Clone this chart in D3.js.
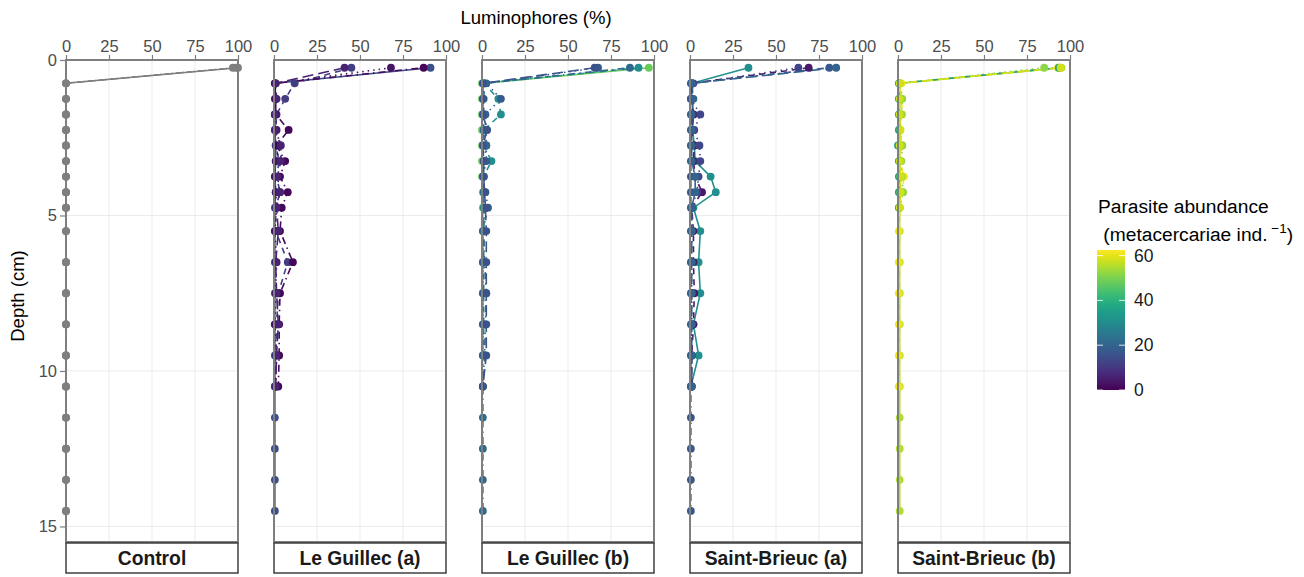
<!DOCTYPE html>
<html><head><meta charset="utf-8">
<script src="https://cdn.jsdelivr.net/npm/d3@7"></script>
<style>body{margin:0;background:#fff}svg{display:block}text{font-family:"Liberation Sans",Arial,sans-serif}</style>
</head><body><svg id="c" width="1304" height="577"></svg>
<script>
// ---------- data ----------
const depths = [0.25,0.75,1.25,1.75,2.25,2.75,3.25,3.75,4.25,4.75,5.5,6.5,7.5,8.5,9.5,10.5,11.5,12.5,13.5,14.5];
const panels = ["Control","Le Guillec (a)","Le Guillec (b)","Saint-Brieuc (a)","Saint-Brieuc (b)"];
const xTicks = [0,25,50,75,100];
const yTicks = [0,5,10,15];
const legendTicks = [0,20,40,60];
const lineTypes = ["solid","dashed","dotted","dotdash","longdash"];

const controlAbundance = [null,null,null];
const controlValues = [
  [100,0,0,0,0,0,0,0,0,0,0,0,0,0,0,0,0,0,0,0],
  [99,0,0,0,0,0,0,0,0,0,0,0,0,0,0,0,0,0,0,0],
  [97,0,0,0,0,0,0,0,0,0,0,0,0,0,0,0,0,0,0,0]
];
const guillecAAbundance = [15,11,3,1,6];
const guillecAValues = [
  [91,0.5,1,0.5,0.5,1,1,0.5,1,0.5,0.5,0.5,0.5,0.5,0.5,0.5,0.5,0.5,0.5,0.5],
  [45,12,6.5,1.5,1,1,3,1.5,3.5,1,1,8,2.5,1.5,1,0.5],
  [68,1,0.5,0.5,1.5,3.5,1,0.5,1,1.5,0.5,1.5,1,0.5,1.5,1],
  [87,0.5,1,1,8.5,1.5,6.5,3.5,8,4.5,3.5,11,3.5,3,3,2.5],
  [41,1,1.5,0.5,0.5,4,4,2,3.5,1.5,2.5,1,1.5,2.5,1.5,1]
];
const guillecBAbundance = [48,31,18,21,16];
const guillecBValues = [
  [97,0,0,0,0,0,0,0,0.5,0.5,0.5,0.5,0.5,0.5,0.5],
  [91,1,9.5,11,1,1,5.5,1,1,1,1,1,1,1,1],
  [67.5,2.5,11,2,2.5,2.5,2.5,0.5,2,3.5,0.5,0.5,0.5,0.5,0.5,0.5],
  [86,1.5,1,1,1,2.5,1,1,1,1.5,1,1.5,2.5,2,1.5,0.5,0.5,0.5,0.5,0.5],
  [65.5,0.5,0.5,0.5,3,0.5,1,1,1.5,2,2.5,2.5,2.5,2.5,2.5,0.5]
];
const brieucAAbundance = [31,4,13,17,20];
const brieucAValues = [
  [34,1,1,2,1.5,2.5,3,12,15,2,6,5,6,2,5,0.5],
  [69,1,1,2,1,2.5,2,3,7,1,2,2,2.5,2,1,1],
  [63,2,0.5,6,2.5,5.5,6,5,4,1,1,1,1,1,1,1],
  [81,0.5,0.5,0.5,0.5,0.5,0.5,0.5,0.5,0.5,0.5,0.5,0.5,0.5,0.5,0.5,0.5,0.5,0.5,0.5],
  [85,1,2,1,1,1,1,3,3,1,1,1,1,1,1,1]
];
const brieucBAbundance = [55,61,52,35,58];
const brieucBValues = [
  [95,1,1,1,1,1,1,1,1,1,1,1,1,1,1,1,1,1,1,1],
  [93,2,2,2.5,1,2.5,1,3.5,2.5,1,0.5,0.5,0.5,0.5,0.5,0.5],
  [85,1,2.5,2,1,2.5,2,2,3,1],
  [93.5,0.5,0.5,0.5,0.5,0,0.5,0.5,0.5,0.5],
  [94.5,1,1,1,1.5,1,1,1.5,1.5,1]
];
const panelAbundance = [controlAbundance,guillecAAbundance,guillecBAbundance,brieucAAbundance,brieucBAbundance];
const panelValues = [controlValues,guillecAValues,guillecBValues,brieucAValues,brieucBValues];

// ---------- layout ----------
const svg = d3.select("#c");
const pTop = 60, pBottom = 542;
const px = d3.scaleBand().domain(panels).range([66, 1070]).paddingInner(36/208).paddingOuter(0);
const y = d3.scaleLinear().domain([0,15.5]).range([pTop,pBottom]);
const x = d3.scaleLinear().domain([0,100]).range([0,px.bandwidth()]);
const color = d3.scaleSequential(d3.interpolateViridis).domain([0,62.5]);
const naColor = "#7f7f7f";
const dash = {solid:null, dashed:"6,5", dotted:"1.5,4", dotdash:"1.5,4,7,4", longdash:"11,5"};
const tickCol = "#4d4d4d";

panels.forEach((p,i)=>{
  const g = svg.append("g").attr("transform",`translate(${px(p)},0)`);
  g.selectAll(".vg").data(xTicks.slice(1,-1)).join("line")
    .attr("x1",d=>x(d)).attr("x2",d=>x(d)).attr("y1",pTop).attr("y2",pBottom)
    .attr("stroke","#ebebeb").attr("stroke-width",1);
  g.selectAll(".hg").data(yTicks.slice(1)).join("line")
    .attr("x1",0).attr("x2",x(100)).attr("y1",d=>y(d)).attr("y2",d=>y(d))
    .attr("stroke","#ebebeb").attr("stroke-width",1);
  const ax = g.append("g").attr("transform",`translate(0,${pTop})`)
    .call(d3.axisTop(x).tickValues(xTicks).tickSize(5).tickPadding(3));
  ax.select(".domain").remove();
  ax.selectAll(".tick line").attr("stroke","#7f7f7f").attr("stroke-width",1.2);
  ax.selectAll(".tick text").attr("fill",tickCol).attr("font-size","16.5px").attr("font-family","Liberation Sans, Arial, sans-serif");
  if(i===0){
    const ay = g.append("g").call(d3.axisLeft(y).tickValues(yTicks).tickSize(6).tickPadding(3));
    ay.select(".domain").remove();
    ay.selectAll(".tick line").attr("stroke","#7f7f7f").attr("stroke-width",1.2);
    ay.selectAll(".tick text").attr("fill",tickCol).attr("font-size","16.5px").attr("font-family","Liberation Sans, Arial, sans-serif");
  }
  const vals = panelValues[i], ab = panelAbundance[i];
  const line = d3.line().x(d=>x(d[1])).y(d=>y(d[0]));
  const cores = vals.map((v,k)=>({k, ab:ab[k], pts:v.map((val,j)=>[depths[j],val])}));
  const col = c => c.ab==null ? naColor : color(c.ab);
  g.selectAll(".ln").data(cores).join("path")
    .attr("d",c=>line(c.pts)).attr("fill","none")
    .attr("stroke",col).attr("stroke-width",1.6)
    .attr("stroke-dasharray",c=>dash[lineTypes[c.k]]);
  cores.forEach(c=>{
    g.append("g").selectAll("circle").data(c.pts).join("circle")
      .attr("cx",d=>x(d[1])).attr("cy",d=>y(d[0])).attr("r",3.9).attr("fill",col(c));
  });
  g.append("rect").attr("x",0).attr("y",pTop).attr("width",x(100)).attr("height",pBottom-pTop)
    .attr("fill","none").attr("stroke","#7f7f7f").attr("stroke-width",2);
  g.append("rect").attr("x",0).attr("y",543).attr("width",x(100)).attr("height",30)
    .attr("fill","#fff").attr("stroke","#333").attr("stroke-width",1.4);
  g.append("text").attr("x",x(50)).attr("y",565).attr("text-anchor","middle")
    .attr("font-size","19.3px").attr("font-weight","bold").attr("fill","#1a1a1a").text(p);
});

svg.append("text").attr("x",536).attr("y",24).attr("text-anchor","middle")
  .attr("font-size","18.5px").attr("fill","#000").text("Luminophores (%)");
svg.append("text").attr("transform","translate(24,296) rotate(-90)").attr("text-anchor","middle")
  .attr("font-size","18.5px").attr("fill","#000").text("Depth (cm)");

const ly = d3.scaleLinear().domain([0,62.5]).range([390,250]);
const defs = svg.append("defs");
const grad = defs.append("linearGradient").attr("id","vg").attr("x1",0).attr("x2",0).attr("y1",1).attr("y2",0);
d3.range(0,1.0001,0.05).forEach(t=>grad.append("stop").attr("offset",t).attr("stop-color",color(t*62.5)));
const lg = svg.append("g");
lg.append("rect").attr("x",1097).attr("y",ly(62.5)).attr("width",28).attr("height",ly(0)-ly(62.5)).attr("fill","url(#vg)");
lg.selectAll(".lt").data(legendTicks).join("g").each(function(d){
  const s=d3.select(this);
  s.append("line").attr("x1",1097).attr("x2",1103).attr("y1",ly(d)).attr("y2",ly(d)).attr("stroke","#fff").attr("stroke-opacity",0.8).attr("stroke-width",1);
  s.append("line").attr("x1",1119).attr("x2",1125).attr("y1",ly(d)).attr("y2",ly(d)).attr("stroke","#fff").attr("stroke-opacity",0.8).attr("stroke-width",1);
  s.append("text").attr("x",1134).attr("y",ly(d)+6).attr("font-size","17.5px").attr("fill","#1a1a1a").text(d);
});
lg.append("text").attr("x",1098).attr("y",213).attr("font-size","19.2px").attr("fill","#000").text("Parasite abundance");
const t2 = lg.append("text").attr("x",1098).attr("y",241).attr("font-size","19.2px").attr("fill","#000").attr("xml:space","preserve");
t2.append("tspan").text(" (metacercariae ind.");
t2.append("tspan").attr("font-size","13.5px").attr("dy",-8).text(" \u22121");
t2.append("tspan").attr("dy",8).text(")");
</script></body></html>
